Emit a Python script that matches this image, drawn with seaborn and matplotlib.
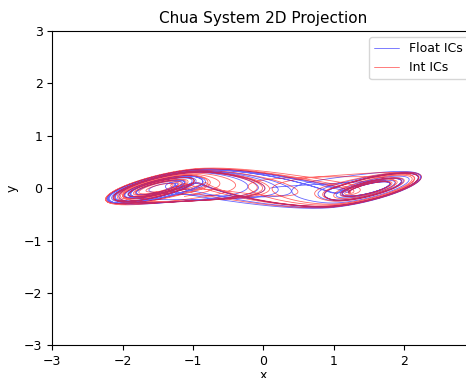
import numpy as np
import pandas as pd
import matplotlib
matplotlib.use("Agg")
import matplotlib.pyplot as plt
import seaborn as sns

# Chua system parameters and initial conditions (data)
chua_params = {"alpha": 15.6, "beta": 28.0, "m0": -1.143, "m1": -0.714}
float_ic = [0.1, 0.0, 0.0]
int_ic = [1, 0, 0]
t_span = [0.0, 50.0]
dt = 0.01
series_labels = ["Float ICs", "Int ICs"]
series_colors = ["blue", "red"]


def chua(s, p):
    x, y, z = s
    fx = p["m1"] * x + 0.5 * (p["m0"] - p["m1"]) * (abs(x + 1) - abs(x - 1))
    return np.array([p["alpha"] * (y - x - fx), x - y + z, -p["beta"] * y])


def integrate(ic, p):
    n = int((t_span[1] - t_span[0]) / dt)
    out = np.empty((n + 1, 3))
    s = np.array(ic, dtype=float)
    out[0] = s
    for i in range(n):
        k1 = chua(s, p)
        k2 = chua(s + 0.5 * dt * k1, p)
        k3 = chua(s + 0.5 * dt * k2, p)
        k4 = chua(s + dt * k3, p)
        s = s + dt / 6 * (k1 + 2 * k2 + 2 * k3 + k4)
        out[i + 1] = s
    return out

sns.set_style("ticks")
plt.rcParams.update({"text.color": "black", "axes.labelcolor": "black",
                     "xtick.color": "black", "ytick.color": "black",
                     "axes.edgecolor": "black"})
fig = plt.figure(figsize=(4.66, 3.78), dpi=100)
ax = fig.add_axes([0.1122, 0.0865, 0.9056, 0.8315])

for ic, lab, col in zip([float_ic, int_ic], series_labels, series_colors):
    traj = integrate(ic, chua_params)
    df = pd.DataFrame({"x": traj[:, 0], "y": traj[:, 1]})
    sns.lineplot(data=df, x="x", y="y", sort=False, estimator=None, ax=ax,
                 color=col, lw=0.6, alpha=0.6, label=lab)

ax.set_xlim(-3, 3)
ax.set_ylim(-3, 3)
ax.set_xticks([-3, -2, -1, 0, 1, 2])
ax.set_yticks([-3, -2, -1, 0, 1, 2, 3])
ax.set_title("Chua System 2D Projection", fontsize=11)
ax.set_xlabel("x", fontsize=9, labelpad=1)
ax.set_ylabel("y", fontsize=9)
ax.tick_params(labelsize=9)
for s in ax.spines.values():
    s.set_visible(True)
ax.legend(loc="upper right", fontsize=9)
fig.savefig("out.png", dpi=100)
